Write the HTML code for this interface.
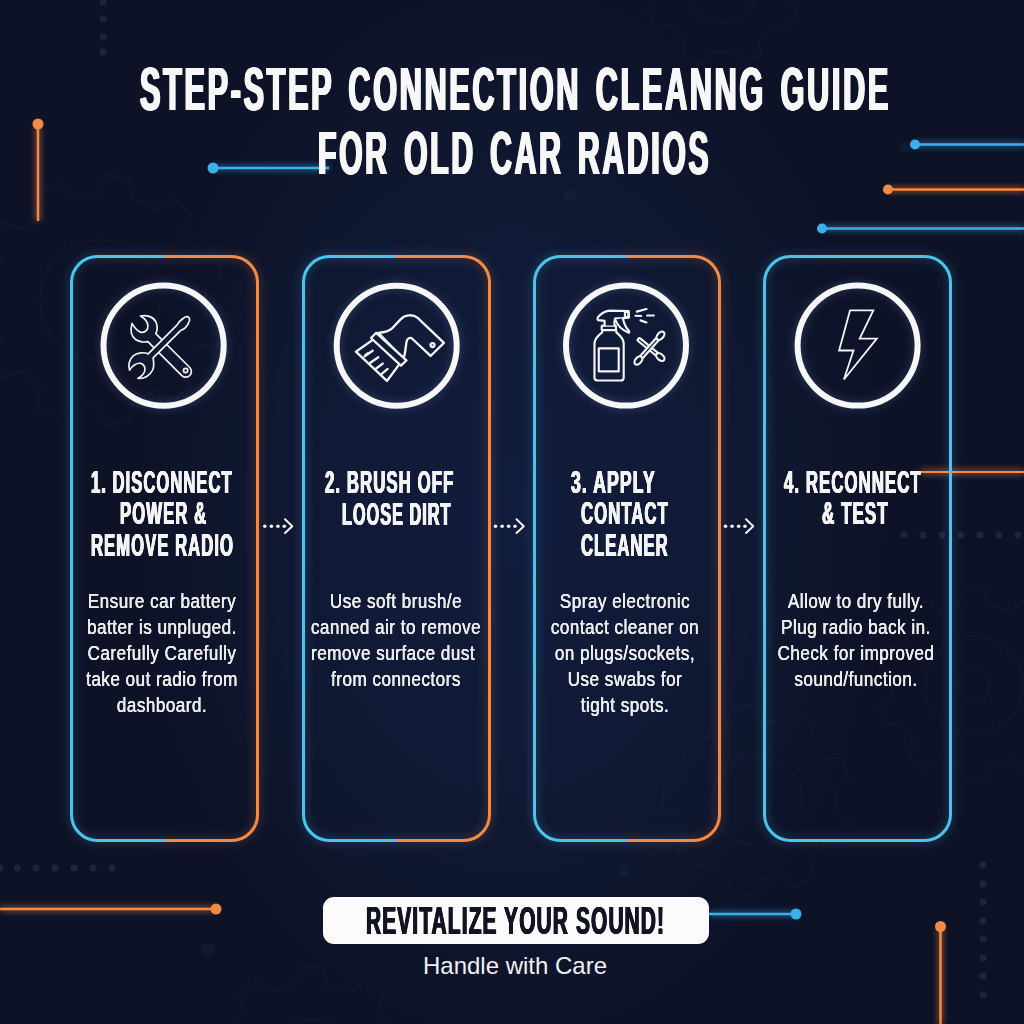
<!DOCTYPE html>
<html><head><meta charset="utf-8">
<style>
html,body{margin:0;padding:0;}
body{width:1024px;height:1024px;overflow:hidden;background:#0d1227;position:relative;font-family:"Liberation Sans",sans-serif;color:#fff;}
.abs{position:absolute;}
.cond{position:absolute;white-space:nowrap;font-weight:bold;text-align:center;transform-origin:50% 50%;}
.title{left:-286px;width:1600px;font-size:64px;line-height:64px;transform:scaleX(0.553);color:#f7f7f7;}
.head{font-size:32px;line-height:31.5px;color:#f4f4f4;width:300px;}
.body{position:absolute;font-size:20.5px;line-height:25.9px;text-align:center;color:#ececec;white-space:nowrap;width:240px;transform:scaleX(0.832);transform-origin:50% 0;letter-spacing:0.6px;text-shadow:0.2px 0 0 #ececec,-0.2px 0 0 #ececec;}
.dot{position:absolute;border-radius:50%;}
.ln{position:absolute;white-space:nowrap;font-weight:bold;transform-origin:0 0;}
.hd{font-size:32px;line-height:32px;color:#f4f4f4;}
</style></head><body>
<!-- background glow -->
<div class="abs" style="left:0;top:0;width:1024px;height:1024px;background:radial-gradient(ellipse 37% 52% at 50% 50%, rgb(17,29,61) 0%, rgb(16,25,52) 55%, rgba(14,19,41,0) 100%);"></div>

<!-- faint gears -->
<svg class="abs" style="left:0;top:0" width="1024" height="1024" viewBox="0 0 1024 1024">
 <g fill="none" stroke="rgba(70,90,140,0.09)" stroke-width="1.6">
  <path d="M1056.0 685.0 L1055.3 696.0 L1068.9 705.3 L1062.7 724.4 L1046.2 723.8 L1040.3 733.2 L1033.2 741.7 L1038.8 757.2 L1022.6 769.0 L1009.6 758.9 L999.3 763.0 L988.6 765.7 L984.0 781.5 L964.0 781.5 L959.4 765.7 L948.7 763.0 L938.4 758.9 L925.4 769.0 L909.2 757.2 L914.8 741.7 L907.7 733.2 L901.8 723.8 L885.3 724.4 L879.1 705.3 L892.7 696.0 L892.0 685.0 L892.7 674.0 L879.1 664.7 L885.3 645.6 L901.8 646.2 L907.7 636.8 L914.8 628.3 L909.2 612.8 L925.4 601.0 L938.4 611.1 L948.7 607.0 L959.4 604.3 L964.0 588.5 L984.0 588.5 L988.6 604.3 L999.3 607.0 L1009.6 611.1 L1022.6 601.0 L1038.8 612.8 L1033.2 628.3 L1040.3 636.8 L1046.2 646.2 L1062.7 645.6 L1068.9 664.7 L1055.3 674.0 Z"/>
  <path d="M786.0 -12.0 L785.1 -1.2 L797.3 8.3 L789.6 26.9 L774.2 25.0 L767.3 33.3 L759.0 40.2 L760.9 55.6 L742.3 63.3 L732.8 51.1 L722.0 52.0 L711.2 51.1 L701.7 63.3 L683.1 55.6 L685.0 40.2 L676.7 33.3 L669.8 25.0 L654.4 26.9 L646.7 8.3 L658.9 -1.2 L658.0 -12.0 L658.9 -22.8 L646.7 -32.3 L654.4 -50.9 L669.8 -49.0 L676.7 -57.3 L685.0 -64.2 L683.1 -79.6 L701.7 -87.3 L711.2 -75.1 L722.0 -76.0 L732.8 -75.1 L742.3 -87.3 L760.9 -79.6 L759.0 -64.2 L767.3 -57.3 L774.2 -49.0 L789.6 -50.9 L797.3 -32.3 L785.1 -22.8 Z"/>
  <path d="M206.0 300.0 L205.2 313.0 L222.7 323.8 L216.1 346.3 L195.5 346.0 L189.2 357.3 L181.5 367.8 L190.4 386.3 L172.6 401.8 L155.5 390.3 L144.0 396.4 L131.9 401.1 L129.4 421.5 L106.1 424.9 L97.9 406.0 L84.9 404.9 L72.2 402.3 L59.0 418.1 L37.6 408.3 L40.9 388.0 L30.6 380.1 L21.3 371.0 L1.7 377.2 L-11.0 357.4 L2.7 342.1 L-1.7 329.9 L-4.6 317.2 L-24.4 311.8 L-24.4 288.2 L-4.6 282.8 L-1.7 270.1 L2.7 257.9 L-11.0 242.6 L1.7 222.8 L21.3 229.0 L30.6 219.9 L40.9 212.0 L37.6 191.7 L59.0 181.9 L72.2 197.7 L84.9 195.1 L97.9 194.0 L106.1 175.1 L129.4 178.5 L131.9 198.9 L144.0 203.6 L155.5 209.7 L172.6 198.2 L190.4 213.7 L181.5 232.2 L189.2 242.7 L195.5 254.0 L216.1 253.7 L222.7 276.2 L205.2 287.0 Z"/>
  <path d="M403.0 1075.0 L402.2 1087.4 L416.6 1097.6 L409.7 1118.8 L392.0 1118.6 L385.4 1129.1 L377.5 1138.6 L383.2 1155.3 L365.1 1168.5 L351.0 1157.9 L339.4 1162.5 L327.4 1165.5 L322.2 1182.4 L299.8 1182.4 L294.6 1165.5 L282.6 1162.5 L271.0 1157.9 L256.9 1168.5 L238.8 1155.3 L244.5 1138.6 L236.6 1129.1 L230.0 1118.6 L212.3 1118.8 L205.4 1097.6 L219.8 1087.4 L219.0 1075.0 L219.8 1062.6 L205.4 1052.4 L212.3 1031.2 L230.0 1031.4 L236.6 1020.9 L244.5 1011.4 L238.8 994.7 L256.9 981.5 L271.0 992.1 L282.6 987.5 L294.6 984.5 L299.8 967.6 L322.2 967.6 L327.4 984.5 L339.4 987.5 L351.0 992.1 L365.1 981.5 L383.2 994.7 L377.5 1011.4 L385.4 1020.9 L392.0 1031.4 L409.7 1031.2 L416.6 1052.4 L402.2 1062.6 Z"/>
  <path d="M837.0 800.0 L836.1 812.0 L849.4 822.0 L841.9 842.5 L825.3 841.7 L818.3 851.4 L809.9 860.0 L813.6 876.3 L794.7 887.2 L782.5 875.8 L770.9 878.8 L759.0 880.0 L751.4 894.8 L729.9 891.0 L727.8 874.5 L717.0 869.3 L707.1 862.5 L691.7 869.0 L677.7 852.3 L686.8 838.3 L681.8 827.4 L678.6 815.8 L662.6 810.9 L662.6 789.1 L678.6 784.2 L681.8 772.6 L686.8 761.7 L677.7 747.7 L691.7 731.0 L707.1 737.5 L717.0 730.7 L727.8 725.5 L729.9 709.0 L751.4 705.2 L759.0 720.0 L770.9 721.2 L782.5 724.2 L794.7 712.8 L813.6 723.7 L809.9 740.0 L818.3 748.6 L825.3 758.3 L841.9 757.5 L849.4 778.0 L836.1 788.0 Z"/>
  <circle cx="974" cy="685" r="49"/><circle cx="974" cy="685" r="16"/>
  <circle cx="100" cy="300" r="60"/><circle cx="311" cy="1075" r="55"/><circle cx="757" cy="800" r="45"/><circle cx="722" cy="-12" r="35"/>
 </g>
 <g fill="rgba(40,55,95,0.18)">
  <circle cx="208" cy="950" r="7"/><circle cx="905" cy="147" r="6"/><circle cx="624" cy="870" r="6"/><circle cx="570" cy="195" r="6"/>
 </g>
</svg>

<!-- decorative lines -->
<svg class="abs" style="left:0;top:0" width="1024" height="1024" viewBox="0 0 1024 1024">
  <defs>
    <filter id="gl" x="-50%" y="-50%" width="200%" height="200%"><feGaussianBlur stdDeviation="3"/></filter>
  </defs>
  <g fill="#1b2542">
    <circle cx="103" cy="2" r="3.5"/><circle cx="103" cy="19" r="3.5"/><circle cx="103" cy="37" r="3.5"/><circle cx="103" cy="52" r="3.5"/>
    <circle cx="904" cy="535" r="3.5"/><circle cx="923" cy="535" r="3.5"/><circle cx="942" cy="535" r="3.5"/><circle cx="961" cy="535" r="3.5"/><circle cx="980" cy="535" r="3.5"/><circle cx="999" cy="535" r="3.5"/><circle cx="1018" cy="535" r="3.5"/>
    <circle cx="0" cy="868" r="3.5"/><circle cx="17.5" cy="868" r="3.5"/><circle cx="36" cy="868" r="3.5"/><circle cx="55" cy="868" r="3.5"/><circle cx="74" cy="868" r="3.5"/><circle cx="93" cy="868" r="3.5"/><circle cx="112" cy="868" r="3.5"/>
    <circle cx="983" cy="865" r="3.5"/><circle cx="983" cy="884" r="3.5"/><circle cx="983" cy="902" r="3.5"/><circle cx="983" cy="921" r="3.5"/><circle cx="983" cy="939" r="3.5"/><circle cx="983" cy="958" r="3.5"/><circle cx="983" cy="976" r="3.5"/><circle cx="983" cy="995" r="3.5"/>
  </g>
  <!-- glows -->
  <g filter="url(#gl)" opacity="0.55">
    <line x1="38" y1="124" x2="38" y2="221" stroke="#f0803a" stroke-width="5"/>
    <line x1="213" y1="168" x2="329" y2="168" stroke="#2f9fe0" stroke-width="5"/>
    <line x1="915" y1="144.5" x2="1024" y2="144.5" stroke="#2f9fe0" stroke-width="5"/>
    <line x1="888" y1="189.5" x2="1024" y2="189.5" stroke="#f0803a" stroke-width="5"/>
    <line x1="822" y1="228.5" x2="1024" y2="228.5" stroke="#2f9fe0" stroke-width="5"/>
    <line x1="921" y1="472" x2="1024" y2="472" stroke="#f0803a" stroke-width="5"/>
    <line x1="0" y1="909" x2="216" y2="909" stroke="#f0803a" stroke-width="5"/>
    <line x1="709" y1="914" x2="796" y2="914" stroke="#2f9fe0" stroke-width="5"/>
    <line x1="940.5" y1="926" x2="940.5" y2="1024" stroke="#f0803a" stroke-width="5"/>
  </g>
  <g stroke-width="2.5">
    <line x1="38" y1="124" x2="38" y2="221" stroke="#f28a45"/>
    <line x1="213" y1="168" x2="329" y2="168" stroke="#3ab0ea"/>
    <line x1="915" y1="144.5" x2="1024" y2="144.5" stroke="#3ab0ea"/>
    <line x1="888" y1="189.5" x2="1024" y2="189.5" stroke="#f28a45"/>
    <line x1="822" y1="228.5" x2="1024" y2="228.5" stroke="#3ab0ea"/>
    <line x1="921" y1="472" x2="1024" y2="472" stroke="#f28a45" stroke-width="2"/>
    <line x1="0" y1="909" x2="216" y2="909" stroke="#f28a45"/>
    <line x1="709" y1="914" x2="796" y2="914" stroke="#3ab0ea"/>
    <line x1="940.5" y1="926" x2="940.5" y2="1024" stroke="#f28a45"/>
  </g>
  <g>
    <circle cx="38" cy="124" r="5.5" fill="#f28a45"/>
    <circle cx="213" cy="168" r="5.5" fill="#3ab0ea"/>
    <circle cx="915" cy="144.5" r="5" fill="#3ab0ea"/>
    <circle cx="888" cy="189.5" r="5" fill="#f28a45"/>
    <circle cx="822" cy="228.5" r="5" fill="#3ab0ea"/>
    <circle cx="216" cy="909" r="5.5" fill="#f28a45"/>
    <circle cx="796" cy="914" r="5.5" fill="#3ab0ea"/>
    <circle cx="940.5" cy="926.5" r="5.5" fill="#f28a45"/>
  </g>
</svg>

<!-- cards -->
<svg class="abs" style="left:0;top:0" width="1024" height="1024" viewBox="0 0 1024 1024">
  <defs>
    <linearGradient id="c1" gradientUnits="userSpaceOnUse" x1="70" x2="259"><stop offset="0.5" stop-color="#48c4ee"/><stop offset="0.5" stop-color="#f28a45"/></linearGradient>
    <linearGradient id="c2" gradientUnits="userSpaceOnUse" x1="302" x2="491"><stop offset="0.5" stop-color="#48c4ee"/><stop offset="0.5" stop-color="#f28a45"/></linearGradient>
    <linearGradient id="c3" gradientUnits="userSpaceOnUse" x1="533" x2="721"><stop offset="0.5" stop-color="#48c4ee"/><stop offset="0.5" stop-color="#f28a45"/></linearGradient>
    <filter id="cg" x="-20%" y="-20%" width="140%" height="140%"><feGaussianBlur stdDeviation="5"/></filter>
    <filter id="wg" x="-30%" y="-30%" width="160%" height="160%"><feGaussianBlur stdDeviation="4"/></filter>
  </defs>
  <g filter="url(#cg)" opacity="0.22" fill="none" stroke-width="6">
    <rect x="71.5" y="256.5" width="186" height="584" rx="26" stroke="url(#c1)"/>
    <rect x="303.5" y="256.5" width="186" height="584" rx="26" stroke="url(#c2)"/>
    <rect x="534.5" y="256.5" width="185" height="584" rx="26" stroke="url(#c3)"/>
    <rect x="764.5" y="256.5" width="186" height="584" rx="26" stroke="#48c4ee"/>
  </g>
  <g fill="none" stroke-width="3">
    <rect x="71.5" y="256.5" width="186" height="584" rx="26" stroke="url(#c1)"/>
    <rect x="303.5" y="256.5" width="186" height="584" rx="26" stroke="url(#c2)"/>
    <rect x="534.5" y="256.5" width="185" height="584" rx="26" stroke="url(#c3)"/>
    <rect x="764.5" y="256.5" width="186" height="584" rx="26" stroke="#48c4ee"/>
  </g>
  <!-- circles -->
  <g fill="none" stroke="#9fc4ff" stroke-width="8" filter="url(#wg)" opacity="0.18">
    <circle cx="163.6" cy="345.6" r="60.1"/>
    <circle cx="396.7" cy="345.8" r="60"/>
    <circle cx="626" cy="345.6" r="60"/>
    <circle cx="857.6" cy="345.6" r="60"/>
  </g>
  <g fill="none" stroke="#f7f7f7" stroke-width="6">
    <circle cx="163.6" cy="345.6" r="60.1"/>
    <circle cx="396.7" cy="345.8" r="60"/>
    <circle cx="626" cy="345.6" r="60"/>
    <circle cx="857.6" cy="345.6" r="60"/>
  </g>
  <!-- arrows -->
  <g fill="#f2f2f2">
    <circle cx="264.8" cy="526.2" r="1.8"/><circle cx="271.4" cy="526.2" r="1.8"/><circle cx="277.9" cy="526.2" r="1.8"/><circle cx="284.3" cy="526.2" r="1.8"/>
    <circle cx="495.5" cy="526.2" r="1.8"/><circle cx="502.1" cy="526.2" r="1.8"/><circle cx="508.6" cy="526.2" r="1.8"/><circle cx="515.0" cy="526.2" r="1.8"/>
    <circle cx="725.5" cy="526.2" r="1.8"/><circle cx="732.1" cy="526.2" r="1.8"/><circle cx="738.6" cy="526.2" r="1.8"/><circle cx="745.0" cy="526.2" r="1.8"/>
  </g>
  <g fill="none" stroke="#f2f2f2" stroke-width="2" stroke-linecap="round" stroke-linejoin="round">
    <polyline points="285,519.3 292.3,526.2 285,533.1"/>
    <polyline points="516.5,519.3 523.8,526.2 516.5,533.1"/>
    <polyline points="746,519.3 753.3,526.2 746,533.1"/>
  </g>
</svg>


<!-- icon 1: tools -->
<svg class="abs" style="left:125px;top:310px" width="72" height="72" viewBox="0 0 1024 1024">
 <g fill="#111933" stroke="#f4f4f4" stroke-width="24" stroke-linejoin="round" stroke-linecap="round">
  <path d="M220 85 C300 68 400 90 440 170 C465 230 462 290 438 335 L921 818 A80 80 0 0 1 808 932 L325 449 C280 462 200 455 150 420 C95 380 70 300 100 190 C125 235 170 300 230 318 C290 325 330 280 325 220 C322 170 280 120 220 85 Z"/>
  <circle cx="862" cy="860" r="30"/>
  <path d="M330 624 C280 600 180 598 120 650 C60 700 40 790 65 855 C100 790 170 745 230 760 C290 780 300 860 260 910 C235 940 205 960 185 972 C270 985 360 930 395 850 C415 800 410 740 400 682 L790 292 C810 285 840 270 860 250 C885 225 905 190 918 150 C925 120 905 92 875 95 C845 100 820 125 790 150 C770 165 760 180 745 209 Z"/>
 </g>
</svg>
<!-- icon 2: brush -->
<svg class="abs" style="left:350px;top:305px" width="100" height="80" viewBox="0 0 1024 819.2">
 <g fill="#111b3a" stroke="#f4f4f4" stroke-width="24" stroke-linejoin="round" stroke-linecap="round">
  <path d="M290 285 C360 280 400 270 430 240 L520 145 C560 100 640 90 690 130 L962 388 L825 522 L640 348 C615 325 585 340 578 380 L570 440 C565 490 560 520 545 548 Z"/>
  <path d="M240 352 L60 478 L378 778 L510 600 Z"/>
  <path d="M215 338 L268 285 L578 568 L522 620 Z"/>
  <circle cx="845" cy="410" r="20"/>
  <path fill="none" d="M150 525 L232 468 M208 592 L290 535 M268 650 L335 600 M325 705 L385 655 M160 510 L185 495"/>
 </g>
</svg>
<!-- icon 3: spray + swabs -->
<svg class="abs" style="left:588px;top:305px" width="85" height="85" viewBox="0 0 1024 1024">
 <g fill="#111b3a" stroke="#f4f4f4" stroke-width="26" stroke-linejoin="round" stroke-linecap="round">
  <path d="M175 300 L170 330 C120 370 78 410 78 465 L78 872 C78 896 96 910 120 910 L392 910 C416 910 430 896 430 872 L430 465 C430 410 390 370 342 330 L338 300 Z"/>
  <rect x="165" y="248" width="172" height="55" rx="10"/>
  <rect x="130" y="522" width="240" height="278"/>
  <path d="M200 248 L200 192 L122 182 C108 172 112 150 140 125 C170 98 215 72 260 68 L490 72 L494 152 L420 158 L330 162 C318 170 318 190 318 248"/>
  <path d="M330 178 C350 240 410 300 490 335 C505 325 495 310 480 295 C450 260 430 210 420 160"/>
  <rect x="445" y="82" width="40" height="65" rx="6"/>
  <path fill="none" d="M588 80 L705 48 M572 130 L640 133 M712 126 L795 126 M632 185 L705 210"/>
  <g transform="translate(755 532) rotate(39.2)">
   <rect x="-195" y="-20" width="345" height="40" rx="20"/>
   <ellipse cx="150" cy="0" rx="58" ry="36"/>
  </g>
  <g transform="translate(740 520) rotate(-48.3)">
   <rect x="-200" y="-20" width="400" height="40" rx="10"/>
   <ellipse cx="-200" cy="0" rx="58" ry="36"/>
   <ellipse cx="200" cy="0" rx="58" ry="36"/>
  </g>
 </g>
</svg>
<!-- icon 4: bolt -->
<svg class="abs" style="left:0;top:0" width="1024" height="1024" viewBox="0 0 1024 1024">
 <path d="M850 310.4 L873.3 310.4 L859.7 338.5 L876.8 338.6 L843.9 379.5 L853.5 350.5 L839.1 350.5 Z" fill="none" stroke="#f4f4f4" stroke-width="1.8" stroke-linejoin="miter"/>
</svg>

<!-- body text -->
<div class="body" style="left:41.5px;top:588.2px;">Ensure car battery<br>batter is unpluged.<br>Carefully Carefully<br>take out radio from<br>dashboard.</div>
<div class="body" style="left:276px;top:588.2px;">Use soft brush/e<br>canned air to remove<br><span style="position:relative;left:-3.5px">remove surface dust</span><br>from connectors</div>
<div class="body" style="left:504.5px;top:588.2px;">Spray electronic<br>contact cleaner on<br>on plugs/sockets,<br>Use swabs for<br>tight spots.</div>
<div class="body" style="left:735.5px;top:588.2px;">Allow to dry fully.<br>Plug radio back in.<br>Check for improved<br>sound/function.</div>

<!-- banner -->
<div class="abs" style="left:323px;top:897px;width:386px;height:47px;border-radius:11px;background:#fbfbfc;"></div>
<div class="abs" style="left:315px;top:951px;width:400px;text-align:center;font-size:24px;line-height:30px;color:#f0f0f0;">Handle with Care</div>
<!-- condensed text -->
<div class="abs" style="left:0;top:0;width:1024px;height:1024px;">
<div class="ln" style="left:140.20px;top:57.70px;font-size:62px;line-height:62px;letter-spacing:5.5px;word-spacing:7.0px;color:#f7f7f7;transform:scaleX(0.4932);text-shadow:1.82px 0 0 #f7f7f7,-1.82px 0 0 #f7f7f7,0.91px 0 0 #f7f7f7,-0.91px 0 0 #f7f7f7;">STEP-STEP CONNECTION CLEANNG GUIDE</div>
<div class="ln" style="left:318.20px;top:121.90px;font-size:62px;line-height:62px;letter-spacing:5.5px;word-spacing:7.0px;color:#f7f7f7;transform:scaleX(0.4861);text-shadow:1.85px 0 0 #f7f7f7,-1.85px 0 0 #f7f7f7,0.93px 0 0 #f7f7f7,-0.93px 0 0 #f7f7f7;">FOR OLD CAR RADIOS</div>
<div class="ln" style="left:91.30px;top:465.80px;font-size:32px;line-height:32px;letter-spacing:2.0px;word-spacing:0px;color:#f4f4f4;transform:scaleX(0.5187);text-shadow:0.77px 0 0 #f4f4f4,-0.77px 0 0 #f4f4f4,0.39px 0 0 #f4f4f4,-0.39px 0 0 #f4f4f4;">1. DISCONNECT</div>
<div class="ln" style="left:119.50px;top:497.30px;font-size:32px;line-height:32px;letter-spacing:2.0px;word-spacing:0px;color:#f4f4f4;transform:scaleX(0.5226);text-shadow:0.77px 0 0 #f4f4f4,-0.77px 0 0 #f4f4f4,0.38px 0 0 #f4f4f4,-0.38px 0 0 #f4f4f4;">POWER &amp;</div>
<div class="ln" style="left:90.80px;top:528.50px;font-size:32px;line-height:32px;letter-spacing:2.0px;word-spacing:0px;color:#f4f4f4;transform:scaleX(0.5205);text-shadow:0.77px 0 0 #f4f4f4,-0.77px 0 0 #f4f4f4,0.38px 0 0 #f4f4f4,-0.38px 0 0 #f4f4f4;">REMOVE RADIO</div>
<div class="ln" style="left:324.60px;top:466.30px;font-size:32px;line-height:32px;letter-spacing:2.0px;word-spacing:0px;color:#f4f4f4;transform:scaleX(0.5254);text-shadow:0.76px 0 0 #f4f4f4,-0.76px 0 0 #f4f4f4,0.38px 0 0 #f4f4f4,-0.38px 0 0 #f4f4f4;">2. BRUSH OFF</div>
<div class="ln" style="left:341.90px;top:497.80px;font-size:32px;line-height:32px;letter-spacing:2.0px;word-spacing:0px;color:#f4f4f4;transform:scaleX(0.5078);text-shadow:0.79px 0 0 #f4f4f4,-0.79px 0 0 #f4f4f4,0.39px 0 0 #f4f4f4,-0.39px 0 0 #f4f4f4;">LOOSE DIRT</div>
<div class="ln" style="left:571.20px;top:465.70px;font-size:32px;line-height:32px;letter-spacing:2.0px;word-spacing:0px;color:#f4f4f4;transform:scaleX(0.5500);text-shadow:0.73px 0 0 #f4f4f4,-0.73px 0 0 #f4f4f4,0.36px 0 0 #f4f4f4,-0.36px 0 0 #f4f4f4;">3. APPLY</div>
<div class="ln" style="left:580.50px;top:497.40px;font-size:32px;line-height:32px;letter-spacing:2.0px;word-spacing:0px;color:#f4f4f4;transform:scaleX(0.5229);text-shadow:0.76px 0 0 #f4f4f4,-0.76px 0 0 #f4f4f4,0.38px 0 0 #f4f4f4,-0.38px 0 0 #f4f4f4;">CONTACT</div>
<div class="ln" style="left:580.50px;top:528.80px;font-size:32px;line-height:32px;letter-spacing:2.0px;word-spacing:0px;color:#f4f4f4;transform:scaleX(0.5199);text-shadow:0.77px 0 0 #f4f4f4,-0.77px 0 0 #f4f4f4,0.38px 0 0 #f4f4f4,-0.38px 0 0 #f4f4f4;">CLEANER</div>
<div class="ln" style="left:783.80px;top:465.90px;font-size:32px;line-height:32px;letter-spacing:2.0px;word-spacing:0px;color:#f4f4f4;transform:scaleX(0.5252);text-shadow:0.76px 0 0 #f4f4f4,-0.76px 0 0 #f4f4f4,0.38px 0 0 #f4f4f4,-0.38px 0 0 #f4f4f4;">4. RECONNECT</div>
<div class="ln" style="left:821.90px;top:497.20px;font-size:32px;line-height:32px;letter-spacing:2.0px;word-spacing:0px;color:#f4f4f4;transform:scaleX(0.5299);text-shadow:0.75px 0 0 #f4f4f4,-0.75px 0 0 #f4f4f4,0.38px 0 0 #f4f4f4,-0.38px 0 0 #f4f4f4;">&amp; TEST</div>
<div class="ln" style="left:366.20px;top:901.60px;font-size:38px;line-height:38px;letter-spacing:2.0px;word-spacing:0px;color:#121521;transform:scaleX(0.5509);text-shadow:0.91px 0 0 #121521,-0.91px 0 0 #121521,0.45px 0 0 #121521,-0.45px 0 0 #121521;">REVITALIZE YOUR SOUND!</div>
</div>
</body></html>
